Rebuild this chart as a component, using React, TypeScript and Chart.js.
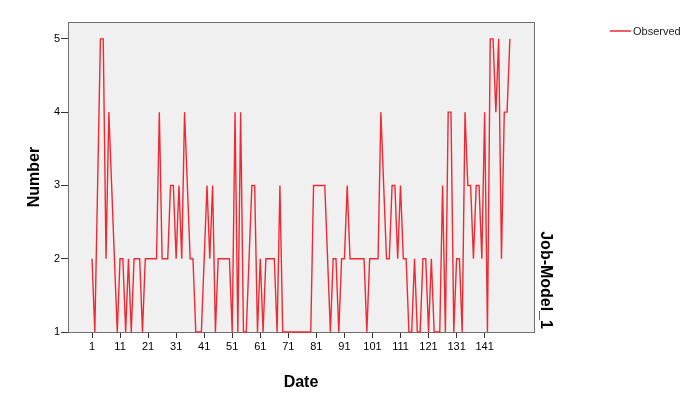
import React, { useEffect, useRef } from "react";
import { Chart, registerables } from "chart.js";

Chart.register(...registerables);

// Observed values for Date = 1..150
const observed: number[] = [
  2, 1, 3, 5, 5, 2, 4, 3, 2, 1,
  2, 2, 1, 2, 1, 2, 2, 2, 1, 2,
  2, 2, 2, 2, 4, 2, 2, 2, 3, 3,
  2, 3, 2, 4, 3, 2, 2, 1, 1, 1,
  2, 3, 2, 3, 1, 2, 2, 2, 2, 2,
  1, 4, 1, 4, 1, 1, 2, 3, 3, 1,
  2, 1, 2, 2, 2, 2, 1, 3, 1, 1,
  1, 1, 1, 1, 1, 1, 1, 1, 1, 3,
  3, 3, 3, 3, 2, 1, 2, 2, 1, 2,
  2, 3, 2, 2, 2, 2, 2, 2, 1, 2,
  2, 2, 2, 4, 3, 2, 2, 3, 3, 2,
  3, 2, 2, 1, 1, 2, 1, 1, 2, 2,
  1, 2, 1, 1, 1, 3, 1, 4, 4, 1,
  2, 2, 1, 4, 3, 3, 2, 3, 3, 2,
  4, 1, 5, 5, 4, 5, 2, 4, 4, 5,
];
const dates: number[] = observed.map((_, i) => i + 1);
const xTickValues: number[] = [1, 11, 21, 31, 41, 51, 61, 71, 81, 91, 101, 111, 121, 131, 141];
const yTickValues: number[] = [1, 2, 3, 4, 5];

const seriesName = "Observed";
const xTitle = "Date";
const yTitle = "Number";
const modelLabel = "Job-Model_1";

const FONT = "Arial, 'Liberation Sans', sans-serif";
const LINE = "#ee2a33";

const decorPlugin = {
  id: "decor",
  beforeDraw(chart: any) {
    const { ctx, chartArea: a } = chart;
    ctx.save();
    ctx.fillStyle = "#f0f0f0";
    ctx.fillRect(a.left, a.top, a.right - a.left, a.bottom - a.top);
    ctx.restore();
  },
  beforeDatasetsDraw(chart: any) {
    const { ctx, chartArea: a } = chart;
    ctx.save();
    ctx.strokeStyle = "#707070";
    ctx.lineWidth = 1;
    ctx.strokeRect(Math.round(a.left) + 0.5, Math.round(a.top) + 0.5, Math.round(a.right - a.left), Math.round(a.bottom - a.top));
    ctx.restore();
  },
  afterDraw(chart: any) {
    const { ctx, chartArea: a } = chart;
    ctx.save();
    ctx.fillStyle = "#000";
    ctx.font = `bold 16px ${FONT}`;
    ctx.textAlign = "center";
    ctx.textBaseline = "middle";
    ctx.save();
    ctx.translate(35, (a.top + a.bottom) / 2);
    ctx.rotate(-Math.PI / 2);
    ctx.fillText(yTitle, 0, 0);
    ctx.restore();
    ctx.fillText(xTitle, (a.left + a.right) / 2, 383);
    ctx.save();
    ctx.font = `bold 16px ${FONT}`;
    ctx.translate(a.right + 11, a.bottom - 3);
    ctx.rotate(Math.PI / 2);
    ctx.textAlign = "right";
    ctx.fillText(modelLabel, 0, 0);
    ctx.restore();
    // legend
    ctx.strokeStyle = LINE;
    ctx.lineWidth = 1.5;
    ctx.beginPath();
    ctx.moveTo(610, 31);
    ctx.lineTo(631, 31);
    ctx.stroke();
    ctx.font = `11px ${FONT}`;
    ctx.fillStyle = "#222";
    ctx.textAlign = "left";
    ctx.fillText(seriesName, 633, 31.5);
    ctx.restore();
  },
};

export default function App() {
  const ref = useRef<HTMLCanvasElement | null>(null);
  useEffect(() => {
    document.body.style.margin = "0";
    const canvas = ref.current!;
    const chart = new Chart(canvas, {
      type: "line",
      data: {
        datasets: [
          {
            label: seriesName,
            data: dates.map((d, i) => ({ x: d, y: observed[i] })),
            borderColor: LINE,
            borderWidth: 1.4,
            pointRadius: 0,
            tension: 0,
            fill: false,
            clip: 3,
          },
        ],
      },
      options: {
        animation: false,
        responsive: false,
        maintainAspectRatio: false,
        layout: { padding: { top: 22, right: 158, bottom: 0, left: 0 } },
        plugins: { legend: { display: false }, tooltip: { enabled: false } },
        scales: {
          x: {
            type: "linear",
            min: -7.56,
            max: 158.6,
            afterBuildTicks: (s: any) => {
              s.ticks = xTickValues.map((v) => ({ value: v }));
            },
            afterFit: (s: any) => {
              s.height = 62;
            },
            border: { display: false },
            grid: { drawOnChartArea: false, drawTicks: true, tickLength: 6, color: "#333" },
            ticks: {
              autoSkip: false,
              maxRotation: 0,
              padding: 2,
              color: "#000",
              font: { family: FONT, size: 11 },
              callback: (v: any) => String(v),
            },
          },
          y: {
            type: "linear",
            min: 1,
            max: 5.23,
            afterBuildTicks: (s: any) => {
              s.ticks = yTickValues.map((v) => ({ value: v }));
            },
            afterFit: (s: any) => {
              s.width = 68;
            },
            border: { display: false },
            grid: { drawOnChartArea: false, drawTicks: true, tickLength: 7, color: "#333" },
            ticks: {
              padding: 1,
              color: "#000",
              font: { family: FONT, size: 11 },
              callback: (v: any) => String(v),
            },
          },
        },
      },
      plugins: [decorPlugin],
    });
    return () => chart.destroy();
  }, []);
  return (
    <div style={{ position: "absolute", left: 0, top: 0, width: 692, height: 394, background: "#fff" }}>
      <canvas ref={ref} width={692} height={394} style={{ width: 692, height: 394, display: "block" }} />
    </div>
  );
}
